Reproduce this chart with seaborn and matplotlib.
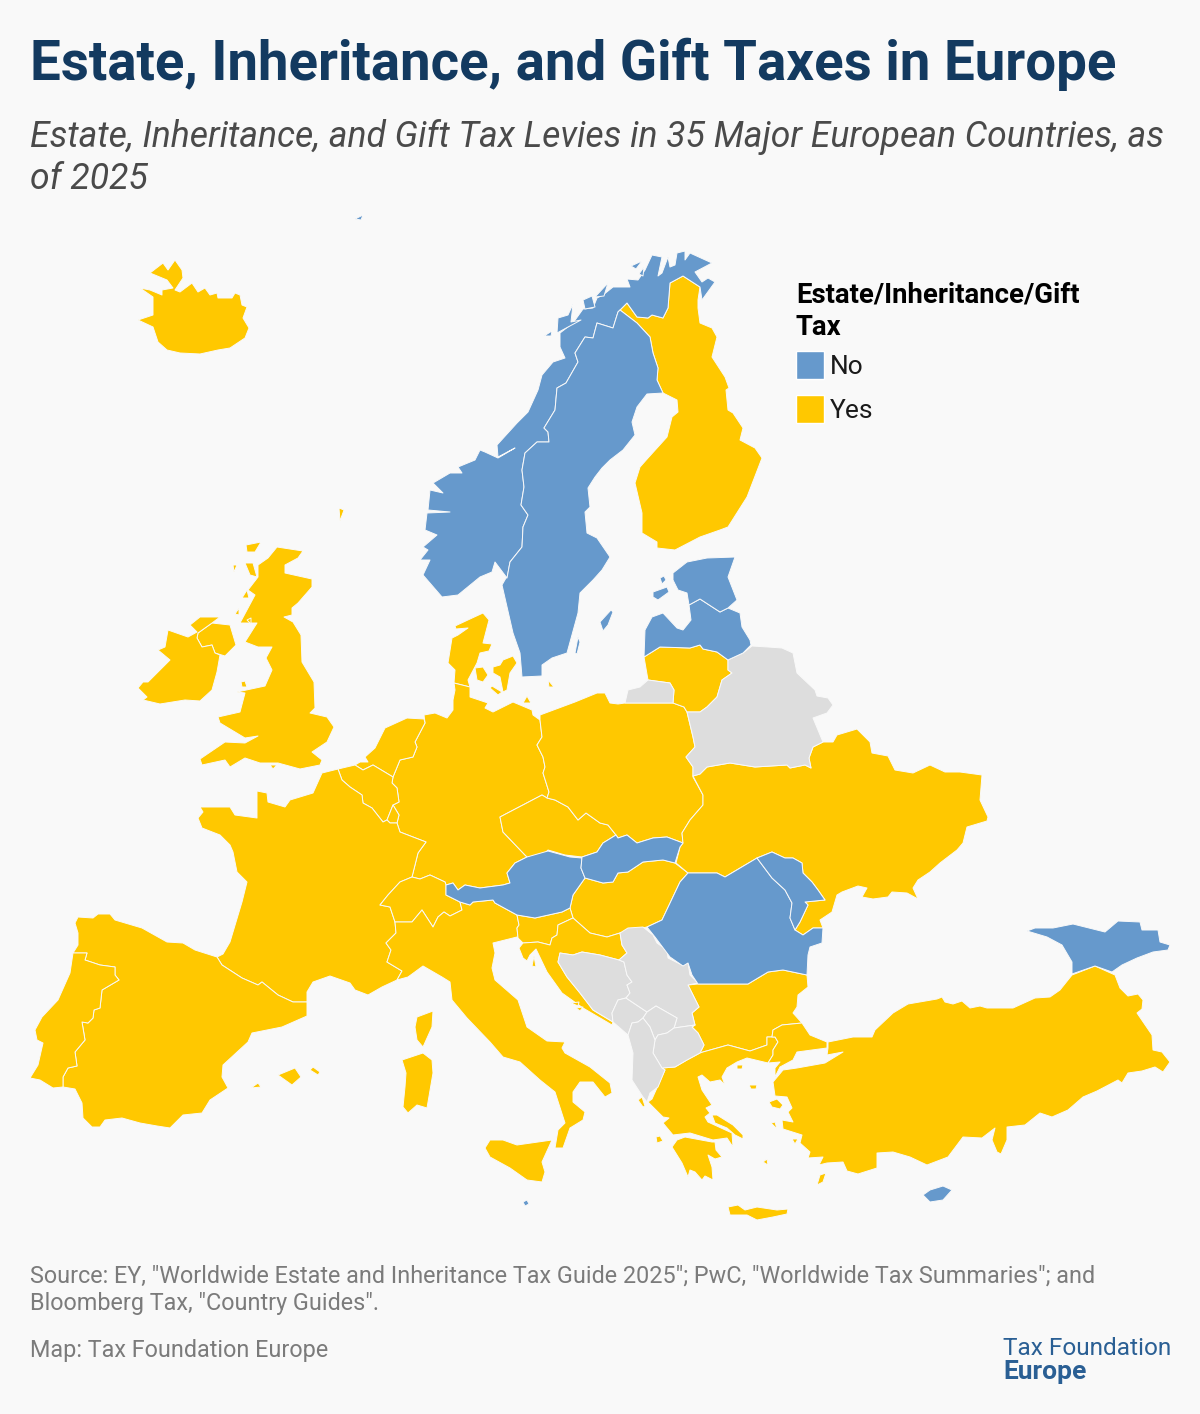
import matplotlib
matplotlib.use("Agg")
import matplotlib.pyplot as plt
from matplotlib.patches import Patch
import seaborn as sns

NORWAY = [(702,300),(715,282),(708,278),(702,282),(695,272),(712,263),(690,253),(685,260),(685,251),(677,253),
          (675,265),(670,267),(668,257),(662,273),(658,276),(662,257),(652,255),(645,270),(638,280),(627,279),
          (630,287),(613,287),(603,295),(597,298),(593,308),(583,309),(573,323),(560,333),(560,347),(565,358),
          (553,362),(542,375),(538,390),(528,412),(517,423),(497,445),(498,457),(515,448),(498,458),(485,452),
          (480,450),(475,460),(458,467),(462,473),(450,473),(433,483),(443,493),(430,490),(428,510),(450,512),
          (427,513),(425,530),(437,535),(423,547),(428,550),(420,560),(430,560),(423,575),(442,597),(458,595),
          (480,577),(492,572),(495,562),(507,578),(510,562),(522,547),(523,527),(528,515),(521,505),(524,487),
          (522,470),(525,453),(537,442),(549,442),(548,432),(544,428),(555,410),(557,388),(566,383),(578,362),
          (575,353),(585,337),(593,338),(597,323),(613,328),(618,312),(620,310),(627,303),(637,317),(648,318),
          (652,315),(663,318),(668,308),(670,283),(683,276),(700,287)]
NORWAY_ISLES = [[(544,336),(552,331),(551,336)],
                [(558,318),(568,315),(573,304),(571,322),(581,320),(557,333)],
                [(583,300),(592,296),(595,307),(585,309)],
                [(595,297),(608,283),(604,296)],
                [(631,266),(642,261),(636,269)],
                [(639,274),(644,267),(643,276)]]
SWEDEN = [(507,578),(510,562),(522,547),(523,527),(528,515),(521,505),(524,487),(522,470),(525,453),(537,442),
          (549,442),(548,432),(544,428),(555,410),(557,388),(566,383),(578,362),(575,353),(585,337),(593,338),
          (597,323),(613,328),(618,312),(620,310),(637,323),(650,337),(653,353),(658,368),(657,380),(663,393),
          (647,394),(637,407),(632,422),(635,435),(623,450),(610,460),(602,468),(595,477),(588,488),(590,507),
          (585,512),(587,533),(597,538),(610,557),(602,570),(593,580),(580,593),(578,613),(567,653),(552,658),
          (542,665),(542,676),(522,677),(520,653),(513,633),(502,585),(506,578)]
SWEDEN_ISLES = [[(600,622),(611,610),(613,612),(608,625),(603,631)],
                [(575,653),(578,637),(580,642),(577,654)]]
FINLAND = [(620,310),(627,303),(637,317),(648,318),(652,315),(663,318),(668,308),(670,283),(683,276),(700,287),
           (698,300),(698,308),(700,323),(712,328),(717,337),(712,357),(725,377),(729,388),(726,390),(728,410),
           (733,413),(743,428),(740,440),(755,448),(762,458),(747,497),(728,527),(720,530),(700,537),(675,550),
           (657,548),(657,542),(642,533),(642,513),(635,483),(640,467),(648,458),(667,437),(672,417),(678,412),
           (677,400),(663,393),(657,380),(658,368),(653,353),(650,337),(637,323)]
ICELAND = [(150,273),(163,263),(168,270),(175,260),(182,270),(183,278),(175,290),(180,292),(192,283),(198,292),
           (205,288),(210,295),(217,293),(218,298),(232,298),(235,293),(240,295),(242,305),(247,307),(243,318),
           (249,328),(245,338),(230,348),(218,350),(200,354),(180,353),(167,350),(158,342),(153,327),(138,320),
           (147,317),(153,315),(153,297),(140,288),(150,290),(162,295),(162,290),(173,288),(167,280)]
BRITAIN = [(277,547),(303,551),(298,558),(285,565),(285,573),(312,579),(312,587),(298,603),(292,608),(292,615),
           (284,617),(293,622),(301,635),(302,662),(314,682),(315,708),(310,713),(327,717),(334,727),(327,742),
           (312,752),(322,760),(320,765),(300,769),(278,763),(260,763),(245,758),(230,767),(225,760),(202,765),
           (200,759),(225,742),(245,743),(258,736),(245,738),(220,723),(218,717),(240,712),(245,693),(237,692),
           (265,686),(272,670),(266,658),(272,647),(258,647),(245,642),(257,623),(240,623),(255,595),(248,590),
           (258,577),(258,565),(268,558)]
N_IRELAND = [(198,633),(212,623),(230,625),(236,645),(225,656),(215,653),(212,645),(202,647),(197,638)]
UK_ISLES = [[(246,545),(261,542),(255,552),(247,552)],[(245,563),(253,563),(257,577),(250,575)],
            [(233,565),(237,565),(234,572)],[(242,598),(247,590),(249,598)],[(235,614),(239,608),(239,615)],
            [(247,620),(251,618),(251,624)],[(339,508),(344,510),(340,521)],[(270,765),(277,765),(273,769)],
            [(241,682),(245,681),(247,687),(242,687)]]
IRELAND = [(168,630),(188,637),(197,632),(190,625),(200,617),(220,617),(212,623),(198,633),(197,638),(202,647),
           (212,645),(215,653),(220,655),(217,672),(212,690),(200,701),(185,700),(160,704),(143,700),(147,697),
           (138,688),(143,682),(148,682),(170,660),(158,650),(165,647)]
DENMARK = [(483,613),(489,620),(483,643),(492,644),(489,651),(480,653),(477,663),(468,680),(470,687),(454,683),
           (455,670),(448,663),(452,638),(458,635),(468,628),(456,629),(455,626),(470,619)]
DENMARK_ISLES = [[(475,668),(483,667),(488,675),(483,682),(477,680)],
                 [(493,667),(500,665),(503,660),(513,656),(517,663),(510,673),(507,690),(503,692),(500,677),(493,673)],
                 [(490,688),(492,686),(502,692),(498,695)],[(523,703),(527,696),(531,703)],
                 [(548,680),(554,687),(549,687)]]
GERMANY = [(454,683),(470,687),(470,697),(488,703),(485,708),(493,712),(513,702),(532,710),(533,715),(540,720),
           (542,737),(537,745),(543,757),(545,767),(543,773),(549,792),(547,798),(542,795),(500,817),(503,832),
           (525,855),(527,857),(515,863),(507,873),(510,883),(503,885),(480,888),(465,885),(458,890),(453,883),
           (446,885),(445,882),(430,875),(420,879),(412,877),(418,853),(426,842),(413,837),(400,832),(397,823),
           (399,815),(393,805),(399,802),(397,788),(392,783),(393,777),(400,760),(413,757),(417,747),(415,742),
           (425,723),(424,715),(435,713),(447,718),(453,710),(453,700),(455,690)]
NETHERLANDS = [(424,719),(407,718),(385,728),(375,748),(365,757),(368,762),(360,762),(355,765),(363,770),(373,765),
               (393,777),(400,760),(413,757),(417,747),(415,742),(425,723)]
BELGIUM = [(338,769),(355,765),(363,770),(373,765),(393,777),(392,783),(397,788),(399,802),(393,805),(387,820),
           (383,822),(372,808),(363,803),(362,795),(350,787),(342,780)]
LUXEMBOURG = [(387,820),(393,805),(399,815),(397,823),(390,823)]
FRANCE = [(338,769),(342,780),(350,787),(362,795),(363,803),(372,808),(383,822),(387,820),(390,823),(397,823),
          (400,832),(413,837),(426,842),(418,853),(412,877),(400,882),(388,895),(380,905),(390,907),(395,922),
          (396,933),(386,943),(391,950),(387,962),(402,971),(397,980),(382,987),(368,995),(355,990),(350,983),
          (330,976),(313,982),(307,992),(307,1002),(293,1002),(278,995),(262,982),(258,985),(242,978),(222,965),
          (217,957),(223,954),(230,942),(242,902),(247,882),(237,872),(233,852),(230,845),(220,835),(202,828),
          (198,818),(203,812),(200,807),(230,807),(235,815),(257,818),(257,791),(267,793),(268,802),(285,807),
          (290,800),(313,793),(322,773)]
CORSICA = [(417,1017),(433,1011),(432,1027),(423,1047),(417,1040),(415,1027)]
SPAIN = [(217,957),(195,950),(183,943),(167,942),(142,928),(115,920),(110,914),(98,914),(93,918),(78,917),
         (75,923),(78,933),(78,945),(73,953),(87,953),(85,960),(100,965),(115,967),(115,975),(119,980),
         (102,990),(100,1008),(94,1010),(93,1018),(88,1023),(82,1022),(85,1040),(75,1052),(77,1066),(68,1068),
         (63,1077),(63,1087),(75,1089),(82,1103),(83,1118),(92,1127),(100,1127),(105,1120),(122,1118),(140,1123),
         (157,1126),(170,1128),(183,1115),(202,1113),(210,1100),(228,1088),(222,1077),(223,1065),(248,1042),
         (252,1033),(282,1027),(307,1016),(307,1002),(293,1002),(278,995),(262,982),(258,985),(242,978),(222,965)]
SPAIN_ISLES = [[(278,1075),(295,1068),(301,1077),(292,1085)],[(310,1070),(313,1067),(320,1072),(318,1075)],
               [(251,1088),(258,1083),(261,1087)]]
PORTUGAL = [(73,953),(70,973),(58,1000),(42,1017),(35,1030),(37,1040),(43,1043),(38,1065),(30,1078),(40,1080),
            (53,1088),(63,1087),(63,1077),(68,1068),(77,1066),(75,1052),(85,1040),(82,1022),(88,1023),(93,1018),
            (94,1010),(100,1008),(102,990),(119,980),(115,975),(115,967),(100,965),(85,960),(87,953)]
SWITZERLAND = [(412,877),(420,879),(430,875),(445,882),(446,885),(446,895),(460,902),(462,910),(450,916),(444,912),
               (438,917),(433,927),(422,910),(412,922),(395,922),(390,907),(380,905),(388,895),(400,882)]
AUSTRIA = [(527,857),(548,851),(570,857),(582,858),(581,868),(585,878),(573,895),(570,908),(562,912),(535,918),
           (517,915),(495,903),(493,900),(473,902),(470,905),(460,902),(446,895),(446,885),(453,883),(458,890),
           (465,885),(480,888),(503,885),(510,883),(507,873),(515,863)]
ITALY = [(397,980),(408,977),(423,966),(442,977),(450,982),(452,1000),(467,1018),(490,1042),(503,1057),(520,1062),
         (540,1080),(555,1092),(565,1123),(558,1130),(555,1148),(563,1148),(570,1128),(583,1120),(585,1112),
         (573,1102),(573,1092),(580,1082),(593,1082),(605,1097),(612,1093),(610,1083),(590,1067),(565,1053),
         (562,1048),(565,1042),(547,1041),(527,1027),(518,1000),(495,980),(492,968),(495,953),(493,943),(517,937),
         (518,943),(518,938),(517,928),(519,925),(517,915),(495,903),(493,900),(473,902),(470,905),(460,902),
         (462,910),(450,916),(444,912),(438,917),(433,927),(422,910),(412,922),(395,922),(396,933),(386,943),
         (391,950),(387,962),(402,971)]
SICILY = [(485,1148),(490,1140),(503,1140),(517,1145),(552,1140),(542,1162),(545,1172),(542,1182),(527,1180),
          (510,1168),(490,1157)]
SARDINIA = [(402,1060),(423,1053),(432,1060),(433,1073),(427,1108),(417,1105),(408,1113),(403,1107),(405,1087),
            (406,1073)]
CZECHIA = [(542,795),(547,798),(555,800),(568,807),(578,820),(586,813),(600,823),(608,825),(616,835),(603,843),
           (597,852),(582,857),(565,855),(548,850),(538,860),(527,857),(525,855),(503,832),(500,817)]
POLAND = [(540,715),(575,702),(597,693),(605,693),(610,703),(618,704),(625,703),(673,703),(684,707),(687,712),
          (693,737),(695,747),(686,757),(693,767),(693,777),(703,795),(703,805),(690,820),(682,833),(683,843),
          (667,837),(653,838),(637,843),(627,835),(618,838),(616,835),(608,825),(600,823),(586,813),(578,820),
          (568,807),(555,800),(547,798),(549,792),(543,773),(545,767),(543,757),(537,745),(542,737),(540,720)]
SLOVAKIA = [(582,857),(597,852),(603,843),(616,835),(618,838),(627,835),(637,843),(653,838),(667,837),(683,843),
            (680,847),(675,863),(663,860),(643,862),(628,872),(618,873),(613,882),(603,883),(585,878),(581,868)]
HUNGARY = [(585,878),(603,883),(613,882),(618,873),(628,872),(643,862),(663,860),(675,863),(688,873),(680,882),
           (662,920),(647,927),(620,933),(607,937),(590,933),(573,918),(570,908),(573,895)]
SLOVENIA = [(517,915),(535,918),(562,912),(570,908),(573,918),(558,925),(557,935),(552,938),(550,945),(538,942),
            (523,943),(518,938),(517,928),(519,925)]
CROATIA = [(573,918),(590,933),(607,937),(620,933),(622,945),(627,953),(619,960),(600,955),(582,952),(573,955),
           (560,953),(558,962),(567,977),(580,993),(593,1010),(613,1022),(612,1025),(583,1008),(562,993),(547,972),
           (536,949),(530,955),(527,961),(523,958),(519,948),(523,943),(538,942),(550,945),(552,938),(557,935),
           (558,925)]
CROATIA_ISLES = [[(532,966),(534,956),(536,967)],[(571,1003),(579,1002),(578,1006)],[(576,1008),(583,1007),(580,1011)]]
BOSNIA = [(560,953),(573,955),(582,952),(600,955),(619,960),(624,962),(627,975),(632,982),(627,985),(630,993),
          (626,998),(618,1000),(612,1013),(613,1022),(593,1010),(580,993),(567,977),(558,962)]
MONTENEGRO = [(626,998),(647,1012),(643,1018),(638,1022),(632,1023),(628,1035),(613,1022),(612,1013),(618,1000)]
SERBIA = [(620,933),(628,928),(643,927),(653,935),(657,943),(667,950),(668,958),(682,965),(688,963),(690,975),
          (698,983),(688,985),(699,1007),(692,1013),(695,1025),(674,1028),(677,1018),(656,1006),(647,1012),(626,998),
          (630,993),(627,985),(632,982),(627,975),(624,962),(619,960),(627,953),(622,945)]
KOSOVO = [(677,1018),(656,1006),(647,1012),(643,1018),(650,1027),(655,1040),(658,1035),(667,1033),(674,1028)]
MACEDONIA = [(674,1028),(695,1025),(692,1027),(698,1033),(704,1045),(700,1053),(687,1060),(675,1067),(662,1068),
             (653,1053),(655,1040),(658,1035),(667,1033)]
ALBANIA = [(632,1023),(638,1022),(643,1018),(650,1027),(655,1040),(653,1053),(662,1068),(665,1070),(658,1087),
           (650,1093),(647,1102),(643,1097),(632,1080),(633,1053),(628,1035)]
ROMANIA = [(757,858),(725,877),(717,873),(692,873),(688,873),(680,882),(662,920),(647,927),(655,937),(670,957),
           (683,966),(688,963),(692,975),(698,984),(748,984),(768,972),(783,970),(807,975),(808,955),(810,947),
           (822,943),(823,928),(813,928),(803,935),(795,930),(790,918),(792,903),(785,890),(772,878)]
MOLDOVA = [(757,858),(772,852),(785,858),(793,858),(802,863),(803,873),(812,882),(818,890),(825,900),(805,902),
           (808,905),(800,922),(795,930),(790,918),(792,903),(785,890),(772,878)]
UKRAINE = [(693,776),(700,774),(707,767),(730,763),(755,767),(787,765),(790,768),(805,765),(811,768),(809,758),
           (813,747),(823,742),(833,742),(837,735),(857,729),(870,742),(872,753),(888,756),(895,770),(913,773),
           (930,765),(945,772),(960,772),(982,775),(980,800),(988,817),(987,821),(967,827),(963,843),(957,850),
           (940,863),(930,872),(918,880),(913,888),(918,899),(907,893),(892,892),(888,897),(873,899),(862,897),
           (867,888),(858,886),(842,892),(837,895),(832,912),(820,920),(823,928),(813,928),(803,935),(795,930),
           (800,922),(808,905),(805,902),(825,900),(818,890),(812,882),(803,873),(802,863),(793,858),(785,858),
           (772,852),(757,858),(725,877),(717,873),(692,873),(688,873),(676,863),(680,847),(683,843),(682,833),
           (690,820),(703,805),(703,795)]
BELARUS = [(730,659),(743,653),(752,646),(768,647),(782,648),(793,653),(797,673),(815,690),(817,696),(828,698),
           (833,705),(827,713),(813,718),(823,742),(813,747),(809,758),(811,768),(805,765),(790,768),(787,765),
           (755,767),(730,763),(707,767),(700,774),(693,776),(693,767),(686,757),(695,747),(693,737),(687,712),
           (700,712),(707,707),(717,697),(722,680),(732,673),(728,670),(728,660)]
KALININGRAD = [(625,703),(628,690),(640,687),(648,680),(670,683),(674,690),(673,703)]
LITHUANIA = [(644,657),(660,647),(690,648),(700,645),(703,649),(717,652),(728,660),(728,670),(732,673),(722,680),
             (717,697),(707,707),(700,712),(687,712),(684,707),(673,703),(674,690),(670,683),(648,680)]
LATVIA = [(644,657),(645,630),(652,617),(663,613),(677,628),(683,630),(691,620),(689,605),(700,599),(720,612),
          (728,608),(740,613),(742,627),(750,640),(751,645),(743,653),(730,659),(728,660),(717,652),(703,649),
          (700,645),(690,648),(660,647)]
ESTONIA = [(673,573),(687,562),(707,558),(735,557),(728,577),(737,600),(728,608),(720,612),(700,599),(689,605),
           (687,593),(678,590),(673,580)]
ESTONIA_ISLES = [[(653,592),(667,587),(669,592),(658,600),(653,597)],[(660,578),(664,576),(666,580),(662,584)]]
BULGARIA = [(688,985),(698,984),(748,984),(768,972),(783,970),(807,975),(808,987),(798,995),(797,1007),(793,1013),
            (802,1023),(782,1025),(773,1030),(772,1037),(767,1037),(767,1045),(750,1051),(728,1045),(703,1052),
            (700,1053),(704,1045),(698,1033),(692,1027),(695,1025),(692,1013),(699,1007)]
GREECE = [(703,1052),(728,1045),(750,1051),(767,1045),(767,1037),(775,1037),(778,1042),(773,1050),(773,1055),(768,1063),
          (747,1058),(737,1062),(727,1068),(722,1077),(725,1085),(720,1080),(710,1082),(702,1075),(698,1077),(702,1090),
          (712,1105),(706,1108),(710,1113),(705,1117),(708,1122),(732,1133),(733,1147),(727,1138),(713,1140),(690,1133),
          (673,1135),(663,1123),(669,1118),(663,1117),(648,1102),(652,1099),(665,1070),(662,1068),(675,1067),(687,1060),
          (700,1053)]
PELOPONNESE = [(672,1147),(677,1140),(685,1137),(712,1142),(715,1142),(716,1150),(722,1157),(715,1159),(708,1155),
               (712,1167),(713,1180),(705,1176),(702,1180),(695,1172),(690,1170),(688,1177),(682,1163)]
GREECE_ISLES = [[(712,1115),(717,1115),(733,1125),(743,1135),(743,1139),(735,1135),(727,1128),(715,1123)],
                [(728,1207),(738,1205),(745,1210),(757,1207),(777,1210),(788,1209),(787,1214),(773,1217),(757,1220),
                 (747,1215),(730,1215)],
                [(638,1100),(642,1097),(645,1106),(643,1107)],[(656,1137),(660,1136),(663,1141),(657,1143)],
                [(769,1102),(777,1099),(783,1105),(780,1109),(772,1107)],[(771,1123),(775,1122),(777,1129)],
                [(737,1065),(743,1065),(742,1069),(737,1069)],[(749,1085),(757,1085),(756,1089),(751,1089)],
                [(763,1162),(767,1159),(768,1165)],[(792,1139),(798,1139),(795,1144)],
                [(817,1185),(820,1175),(826,1173),(823,1182)]]
THRACE = [(802,1023),(810,1035),(827,1042),(827,1048),(797,1052),(793,1060),(780,1067),(775,1077),(775,1068),(780,1062),
          (768,1063),(773,1055),(773,1050),(778,1042),(775,1037),(772,1037),(773,1030),(782,1025)]
ANATOLIA = [(828,1042),(853,1037),(872,1037),(875,1030),(893,1013),(908,1004),(937,999),(942,997),(945,1002),(953,1004),
            (962,1001),(970,1008),(980,1006),(987,1008),(1013,1008),(1035,998),(1050,997),(1060,990),(1072,975),(1090,968),
            (1095,966),(1115,975),(1120,988),(1128,996),(1138,994),(1143,1000),(1142,1009),(1137,1013),(1152,1035),(1153,1050),
            (1162,1052),(1170,1062),(1163,1072),(1155,1067),(1142,1071),(1128,1073),(1122,1083),(1118,1080),(1097,1091),
            (1083,1097),(1068,1110),(1052,1117),(1040,1113),(1025,1125),(1007,1127),(1007,1140),(1001,1154),(997,1152),
            (992,1140),(995,1128),(982,1138),(963,1137),(948,1157),(927,1165),(910,1157),(893,1152),(877,1153),(877,1168),
            (858,1174),(847,1171),(843,1162),(827,1163),(819,1165),(823,1157),(808,1158),(810,1152),(800,1143),(802,1135),
            (783,1129),(782,1120),(793,1122),(788,1112),(792,1108),(787,1097),(775,1096),(773,1082),(783,1070),(797,1068),
            (825,1063),(843,1052),(827,1055),(828,1048)]
GEORGIA = [(1027,931),(1035,928),(1053,928),(1073,924),(1105,932),(1118,921),(1140,922),(1142,930),(1158,930),(1160,942),
           (1170,945),(1168,950),(1153,952),(1137,958),(1122,965),(1112,972),(1095,966),(1072,974),(1072,962),(1062,945),
           (1047,937)]
CYPRUS = [(923,1195),(930,1190),(943,1186),(952,1190),(943,1200),(930,1202)]
MALTA = [(523,1202),(527,1200),(529,1204),(525,1206)]
SVALBARD = [(355,219),(363,215),(361,220)]

TAX_YES = [FINLAND, ICELAND, BRITAIN, N_IRELAND, *UK_ISLES, IRELAND, DENMARK, *DENMARK_ISLES, GERMANY, NETHERLANDS,
           BELGIUM, LUXEMBOURG, FRANCE, CORSICA, SPAIN, *SPAIN_ISLES, PORTUGAL, SWITZERLAND, ITALY, SICILY, SARDINIA,
           CZECHIA, POLAND, HUNGARY, SLOVENIA, CROATIA, *CROATIA_ISLES, LITHUANIA, UKRAINE, BULGARIA, GREECE,
           PELOPONNESE, *GREECE_ISLES, THRACE, ANATOLIA]
TAX_NO = [NORWAY, *NORWAY_ISLES, SWEDEN, *SWEDEN_ISLES, AUSTRIA, SLOVAKIA, ROMANIA, MOLDOVA, LATVIA, ESTONIA,
          *ESTONIA_ISLES, GEORGIA, CYPRUS, MALTA, SVALBARD]
NOT_COVERED = [BELARUS, KALININGRAD, BOSNIA, MONTENEGRO, SERBIA, KOSOVO, MACEDONIA, ALBANIA]

LEGEND_LABELS = ["No", "Yes"]
TITLE = "Estate, Inheritance, and Gift Taxes in Europe"
SUBTITLE = "Estate, Inheritance, and Gift Tax Levies in 35 Major European Countries, as\nof 2025"
SOURCE = ('Source: EY, "Worldwide Estate and Inheritance Tax Guide 2025"; PwC, "Worldwide Tax Summaries"; and\n'
          'Bloomberg Tax, "Country Guides".')

BACKGROUND = "#f9f9f9"
palette = sns.color_palette(["#6699cc", "#ffc800", "#dddddd"])

sns.set_theme(style="white")
plt.rcParams["font.family"] = ["Roboto", "DejaVu Sans"]

fig = plt.figure(figsize=(12, 14.14), dpi=100, facecolor=BACKGROUND)
ax = fig.add_axes([0, 0, 1, 1], facecolor=BACKGROUND)
ax.set_xlim(0, 1200)
ax.set_ylim(1414, 0)
ax.axis("off")

for outlines, color in [(TAX_YES, palette[1]), (NOT_COVERED, palette[2]), (TAX_NO, palette[0])]:
    for outline in outlines:
        xs, ys = zip(*outline)
        ax.fill(xs, ys, facecolor=color, edgecolor=BACKGROUND, linewidth=0.7, joinstyle="round")

# Legend
handles = [Patch(facecolor=palette[0], label=LEGEND_LABELS[0]), Patch(facecolor=palette[1], label=LEGEND_LABELS[1])]
legend = ax.legend(handles=handles, title="Estate/Inheritance/Gift\nTax", loc="upper left",
                   bbox_to_anchor=(796, 281), bbox_transform=ax.transData, frameon=False, borderpad=0,
                   borderaxespad=0, fontsize=19, handlelength=1.06, handleheight=1.25, handletextpad=0.22,
                   labelspacing=0.63, alignment="left",
                   title_fontproperties={"family": "Roboto", "weight": "bold", "size": 19.85})
legend.get_title().set_color("black")
legend.get_title().set_linespacing(1.3)
legend._legend_box.sep = 6.85  # tighter gap under the legend title
for label in legend.get_texts():
    label.set_color("#1a1a1a")

# Headings, multi-line texts are anchored on their last baseline
ax.text(30, 80, TITLE, fontsize=39.3, fontweight="bold", color="#133a60", ha="left", va="baseline")
ax.text(30, 189, SUBTITLE, fontsize=25.57, fontstyle="italic", color="#4a4a4a",
        ha="left", va="baseline", linespacing=1.2)

# Footer
ax.text(30, 1310, SOURCE, fontsize=16.8, color="#7b7b7b", ha="left", va="baseline", linespacing=1.24)
ax.text(30, 1357, "Map: Tax Foundation Europe", fontsize=16.8, color="#7b7b7b", ha="left", va="baseline")
ax.text(1003, 1355, "Tax Foundation", fontsize=17.6, color="#2a5f94", ha="left", va="baseline")
ax.text(1003, 1379, "Europe", fontsize=19, fontweight="bold", color="#2a5f94", ha="left", va="baseline")

fig.savefig("out.png", dpi=100, facecolor=BACKGROUND)
